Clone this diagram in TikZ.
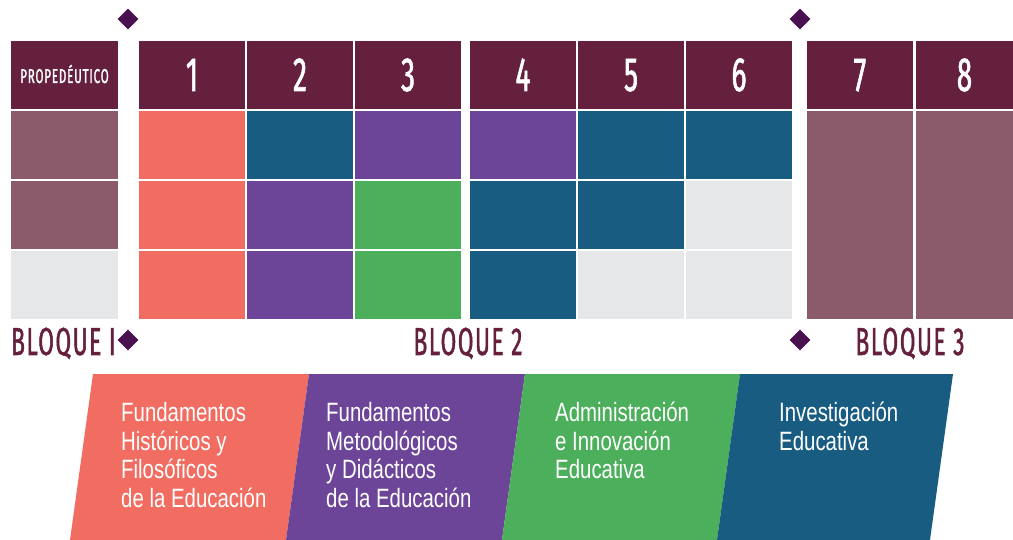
\documentclass[tikz,border=0pt]{standalone}
\usepackage{fontspec}
\usetikzlibrary{shapes.geometric}
\newfontfamily\hdfont[FakeStretch=0.58,FakeBold=1.3,LetterSpace=4]{Fira Sans}
\newfontfamily\bdfont[FakeStretch=0.77]{Liberation Sans}
\definecolor{hdcol}{HTML}{65203D}
\definecolor{mauve}{HTML}{8B5A6B}
\definecolor{coral}{HTML}{F26D61}
\definecolor{dblue}{HTML}{185C82}
\definecolor{purp}{HTML}{6D4598}
\definecolor{grn}{HTML}{4CAF5B}
\definecolor{lgrey}{HTML}{E6E7E8}
\definecolor{diam}{HTML}{4A1150}
\newcommand\mycell[5]{\fill[#5] (#1,#2) rectangle (#3,#4);}
\begin{document}
\begin{tikzpicture}[x=1pt,y=-1pt,
  hdnum/.style={text=white,inner sep=0,anchor=base,font=\hdfont\fontsize{48}{48}\selectfont},
  bloque/.style={text=hdcol,inner sep=0,anchor=base,font=\hdfont\fontsize{39}{39}\selectfont},
  dmd/.style={fill=diam,shape=diamond,inner sep=0,minimum size=21pt},
  bline/.style={text=white,inner sep=0,anchor=base west,font=\bdfont\fontsize{26.5}{28.7}\selectfont}]
\useasboundingbox (0,0) rectangle (1013,540);
% headers
\foreach \xa/\xb in {11/118,139/245,247/353,355/461,470/576,578/684,686/792,807/913,916/1013}
  {\fill[hdcol] (\xa,41) rectangle (\xb,109);}
% propedeutico
\mycell{11}{111}{118}{179}{mauve}
\mycell{11}{181}{118}{249}{mauve}
\mycell{11}{251}{118}{319}{lgrey}
% col 1
\mycell{139}{111}{245}{179}{coral}
\mycell{139}{181}{245}{249}{coral}
\mycell{139}{251}{245}{319}{coral}
% col 2
\mycell{247}{111}{353}{179}{dblue}
\mycell{247}{181}{353}{249}{purp}
\mycell{247}{251}{353}{319}{purp}
% col 3
\mycell{355}{111}{461}{179}{purp}
\mycell{355}{181}{461}{249}{grn}
\mycell{355}{251}{461}{319}{grn}
% col 4
\mycell{470}{111}{576}{179}{purp}
\mycell{470}{181}{576}{249}{dblue}
\mycell{470}{251}{576}{319}{dblue}
% col 5
\mycell{578}{111}{684}{179}{dblue}
\mycell{578}{181}{684}{249}{dblue}
\mycell{578}{251}{684}{319}{lgrey}
% col 6
\mycell{686}{111}{792}{179}{dblue}
\mycell{686}{181}{792}{249}{lgrey}
\mycell{686}{251}{792}{319}{lgrey}
% col 7, 8
\mycell{807}{111}{913}{319}{mauve}
\mycell{916}{111}{1013}{319}{mauve}
% header texts
\node[text=white,inner sep=0,anchor=base,font=\hdfont\fontsize{20}{20}\selectfont] (prop) at (64.5,83) {PROPEDÉUTICO};
\node[hdnum] (h1) at (192,91) {1};
\node[hdnum] (h2) at (300,91) {2};
\node[hdnum] (h3) at (408,91) {3};
\node[hdnum] (h4) at (523,91) {4};
\node[hdnum] (h5) at (631,91) {5};
\node[hdnum] (h6) at (739,91) {6};
\node[hdnum] (h7) at (860,91) {7};
\node[hdnum] (h8) at (964.5,91) {8};
% diamonds
\node[dmd] (d1) at (128,19) {};
\node[dmd] (d2) at (128,340) {};
\node[dmd] (d3) at (800,19) {};
\node[dmd] (d4) at (800,340) {};
% bloque labels
\node[bloque,anchor=base west] (b1) at (11,355) {BLOQUE I};
\node[bloque] (b2) at (468,355) {BLOQUE 2};
\node[bloque] (b3) at (910,355) {BLOQUE 3};
% bottom parallelograms
\fill[coral] (93,374) -- (309,374) -- (286,540) -- (70,540) -- cycle;
\fill[purp] (309,374) -- (525,374) -- (502,540) -- (286,540) -- cycle;
\fill[grn] (525,374) -- (740,374) -- (717,540) -- (502,540) -- cycle;
\fill[dblue] (740,374) -- (953,374) -- (930,540) -- (717,540) -- cycle;
% bottom texts
\node[bline] (c1) at (121,421) {Fundamentos};
\node[bline] (c2) at (121,450) {Históricos y};
\node[bline] (c3) at (121,478) {Filosóficos};
\node[bline] (c4) at (121,507) {de la Educación};
\node[bline] (p1) at (326,421) {Fundamentos};
\node[bline] (p2) at (326,450) {Metodológicos};
\node[bline] (p3) at (326,478) {y Didácticos};
\node[bline] (p4) at (326,507) {de la Educación};
\node[bline] (g1) at (555,421) {Administración};
\node[bline] (g2) at (555,450) {e Innovación};
\node[bline] (g3) at (555,478) {Educativa};
\node[bline] (i1) at (779,421) {Investigación};
\node[bline] (i2) at (779,450) {Educativa};
\end{tikzpicture}
\end{document}
